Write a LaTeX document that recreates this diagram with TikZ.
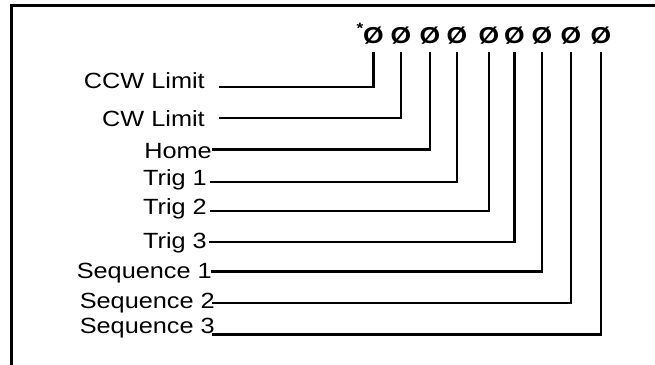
\documentclass[tikz,border=0pt]{standalone}
\usepackage{fontspec}
\setmainfont{Liberation Sans}[FakeStretch=1.15]
\begin{document}
\begin{tikzpicture}[x=1pt,y=-1pt,
  lbl/.style={anchor=east,inner sep=0pt,font=\fontsize{22}{24}\selectfont,text height=15.5pt,text depth=0pt},
  zero/.style={inner xsep=0pt,inner ysep=8.5pt,font=\fontsize{23}{25}\selectfont\bfseries,text height=16.5pt,text depth=0pt},
  wire/.style={line width=2.3pt},
  frame/.style={line width=3pt}]
\useasboundingbox (0,0) rectangle (655,364);
% frame (cropped box)
\draw[frame] (11.5,370) -- (11.5,5) -- (660,5);
% terminal marks
\foreach \i/\x in {1/373.5,2/401,3/430,4/457,5/489,6/514.5,7/542,8/571,9/601}
  \node[zero] (z\i) at (\x,35) {Ø};
\node[inner sep=0pt,font=\fontsize{15}{15}\selectfont\bfseries] (star) at (360,28.5) {*};
% labels
\node[lbl] (l1) at (205,81)    {CCW Limit};
\node[lbl] (l2) at (205,118.3) {CW Limit};
\node[lbl] (l3) at (212,151)   {Home};
\node[lbl] (l4) at (207,178)   {Trig 1};
\node[lbl] (l5) at (207,207)   {Trig 2};
\node[lbl] (l6) at (207,241)   {Trig 3};
\node[lbl] (l7) at (212,271)   {Sequence 1};
\node[lbl] (l8) at (215,300.5) {Sequence 2};
\node[lbl] (l9) at (215,326)   {Sequence 3};
% line start points
\coordinate (s1) at (219,86.7);
\coordinate (s2) at (219,118.3);
\coordinate (s3) at (212,149.5);
\coordinate (s4) at (210,182.3);
\coordinate (s5) at (210,211);
\coordinate (s6) at (209,241.7);
\coordinate (s7) at (211,271.5);
\coordinate (s8) at (212,302.7);
\coordinate (s9) at (212,334.5);
% connectors
\foreach \i in {1,...,9}
  \draw[wire] (s\i) -| (z\i.south);
\end{tikzpicture}
\end{document}
